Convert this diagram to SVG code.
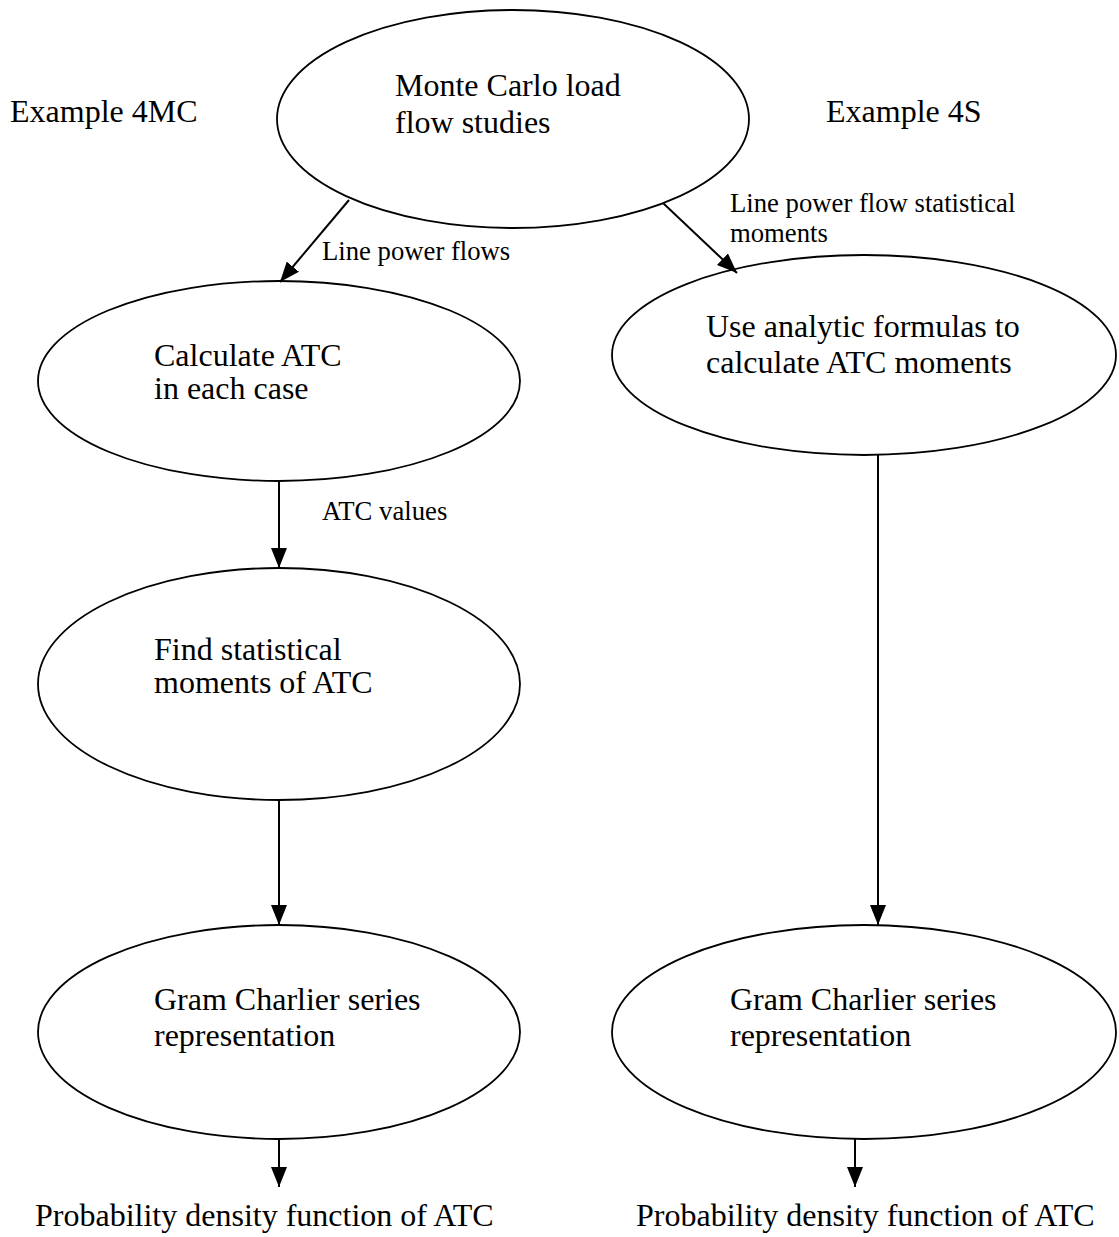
<svg xmlns="http://www.w3.org/2000/svg" width="1119" height="1237" viewBox="0 0 1119 1237">
  <style>
    .node { fill: #fff; stroke: #000; stroke-width: 1.8; }
    .t { font-family: "Liberation Serif", "Times New Roman", serif; font-size: 32px; fill: #000; }
    .lbl { font-family: "Liberation Serif", "Times New Roman", serif; font-size: 26.7px; fill: #000; }
    .edge { stroke: #000; stroke-width: 2; fill: none; marker-end: url(#arrow); }
  </style>
  <defs>
    <marker id="arrow" viewBox="0 0 20 16" refX="20" refY="8" markerWidth="20" markerHeight="16" markerUnits="userSpaceOnUse" orient="auto">
      <path d="M0,0 L20,8 L0,16 z" fill="#000"/>
    </marker>
  </defs>
  <rect width="1119" height="1237" fill="#fff"/>

  <!-- side headings -->
  <text class="t" x="10" y="122">Example 4MC</text>
  <text class="t" x="826" y="122">Example 4S</text>

  <g id="n-montecarlo">
    <ellipse class="node" cx="513" cy="119" rx="236" ry="109"/>
    <text class="t" x="395" y="96">Monte Carlo load</text>
    <text class="t" x="395" y="133">flow studies</text>
  </g>
  <g id="n-calc">
    <ellipse class="node" cx="279" cy="381" rx="241" ry="100"/>
    <text class="t" x="154" y="366">Calculate ATC</text>
    <text class="t" x="154" y="399">in each case</text>
  </g>
  <g id="n-moments">
    <ellipse class="node" cx="279" cy="684" rx="241" ry="116"/>
    <text class="t" x="154" y="660">Find statistical</text>
    <text class="t" x="154" y="693">moments of ATC</text>
  </g>
  <g id="n-gram-left">
    <ellipse class="node" cx="279" cy="1032" rx="241" ry="107"/>
    <text class="t" x="154" y="1010">Gram Charlier series</text>
    <text class="t" x="154" y="1046">representation</text>
  </g>
  <g id="n-analytic">
    <ellipse class="node" cx="864" cy="355" rx="252" ry="100"/>
    <text class="t" x="706" y="337">Use analytic formulas to</text>
    <text class="t" x="706" y="373">calculate ATC moments</text>
  </g>
  <g id="n-gram-right">
    <ellipse class="node" cx="864" cy="1032" rx="252" ry="107"/>
    <text class="t" x="730" y="1010">Gram Charlier series</text>
    <text class="t" x="730" y="1046">representation</text>
  </g>

  <g id="connectors">
    <line class="edge" x1="349" y1="200" x2="280" y2="282"/>
    <line class="edge" x1="663" y1="203" x2="737" y2="273"/>
    <line class="edge" x1="279" y1="481" x2="279" y2="568"/>
    <line class="edge" x1="279" y1="800" x2="279" y2="925"/>
    <line class="edge" x1="279" y1="1139" x2="279" y2="1187"/>
    <line class="edge" x1="878" y1="455" x2="878" y2="925"/>
    <line class="edge" x1="855" y1="1139" x2="855" y2="1187"/>
    <text class="lbl" x="322" y="260">Line power flows</text>
    <text class="lbl" x="730" y="212">Line power flow statistical</text>
    <text class="lbl" x="730" y="242">moments</text>
    <text class="lbl" x="322" y="520">ATC values</text>
  </g>

  <text class="t" x="35" y="1226">Probability density function of ATC</text>
  <text class="t" x="636" y="1226">Probability density function of ATC</text>
</svg>
